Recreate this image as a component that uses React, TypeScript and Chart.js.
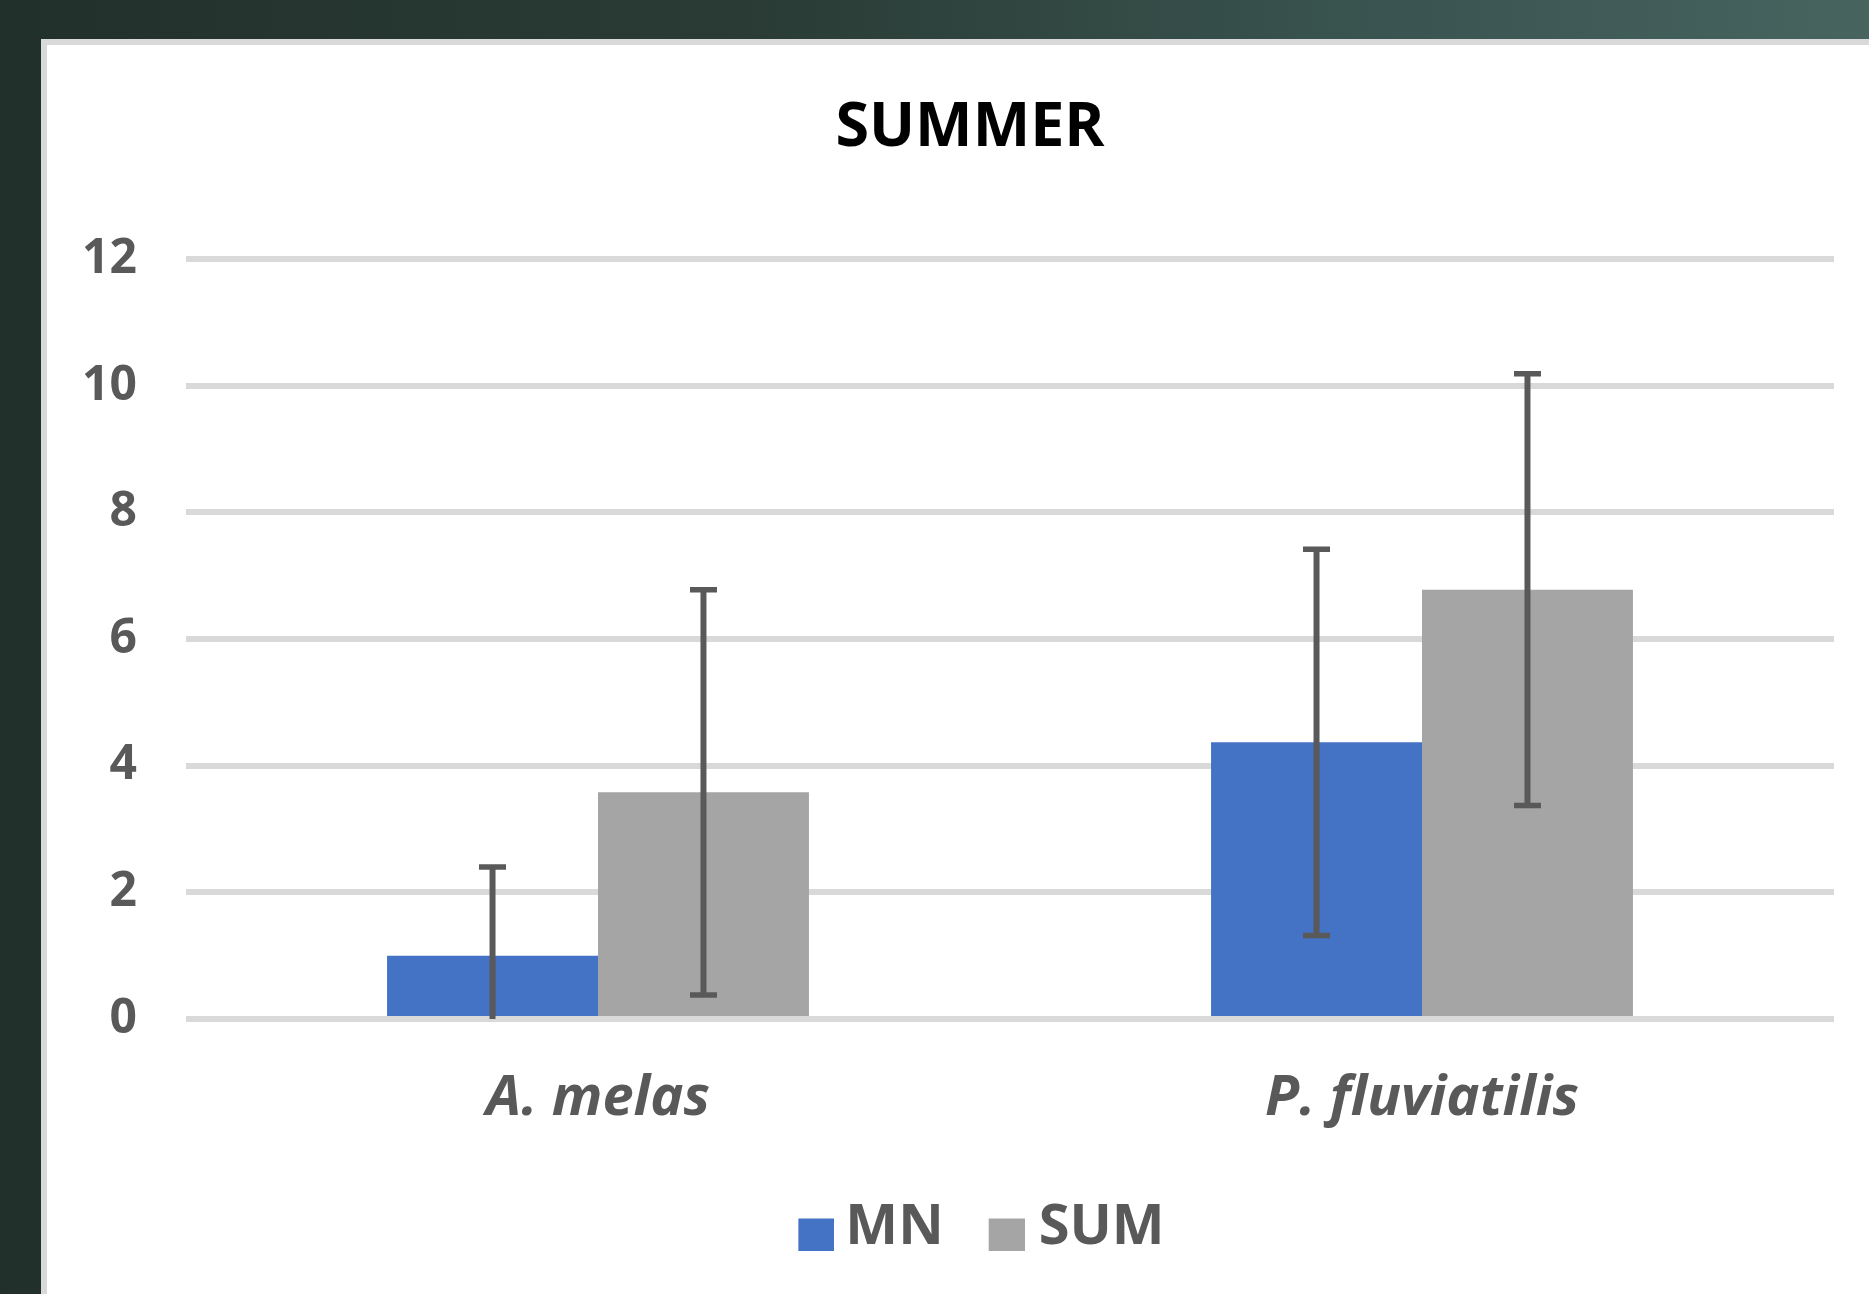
import React, { useEffect, useRef } from "react";
import { Chart, registerables } from "chart.js";

Chart.register(...registerables);

const categories = ["A. melas", "P. fluviatilis"];
const seriesNames = ["MN", "SUM"];
const seriesColors = ["#4472C4", "#A5A5A5"];
const mnValues = [1.0, 4.37];
const mnErrors = [1.4, 3.05];
const sumValues = [3.58, 6.78];
const sumErrors = [3.2, 3.41];
const yMin = 0;
const yMax = 12;
const yStep = 2;

const CANVAS_W = 1846;
const CANVAS_H = 1249;

function makeLegendSwatch(color: string, shift: number) {
  const c = document.createElement("canvas");
  c.width = 70 + shift * 2;
  c.height = 45;
  const g = c.getContext("2d");
  if (g) {
    g.fillStyle = color;
    g.fillRect(34 + shift * 2, 13, 36, 32);
  }
  return c;
}

const errorBarPlugin = {
  id: "errorBars",
  afterDatasetsDraw(chart: any) {
    const { ctx, chartArea, scales } = chart;
    const y = scales.y;
    ctx.save();
    ctx.beginPath();
    ctx.rect(chartArea.left, chartArea.top - 40, chartArea.right - chartArea.left, chartArea.bottom - chartArea.top + 40);
    ctx.clip();
    ctx.strokeStyle = "#595959";
    chart.data.datasets.forEach((ds: any, i: number) => {
      const meta = chart.getDatasetMeta(i);
      const errs: number[] = ds.errors || [];
      meta.data.forEach((bar: any, j: number) => {
        const v = ds.data[j];
        const e = errs[j];
        if (e == null) return;
        const x = bar.x;
        const yTop = y.getPixelForValue(v + e);
        const yBot = y.getPixelForValue(v - e);
        ctx.lineWidth = 6;
        ctx.beginPath();
        ctx.moveTo(x, yTop);
        ctx.lineTo(x, yBot);
        ctx.stroke();
        ctx.lineWidth = 5.5;
        ctx.beginPath();
        ctx.moveTo(x - 13.5, yTop);
        ctx.lineTo(x + 13.5, yTop);
        ctx.moveTo(x - 13.5, yBot);
        ctx.lineTo(x + 13.5, yBot);
        ctx.stroke();
      });
    });
    ctx.restore();
  },
};

export default function App() {
  const ref = useRef<HTMLCanvasElement | null>(null);

  useEffect(() => {
    if (!ref.current) return;
    const swatches = [makeLegendSwatch(seriesColors[0], 3), makeLegendSwatch(seriesColors[1], 0)];
    const chart = new Chart(ref.current, {
      type: "bar",
      data: {
        labels: categories,
        datasets: [
          {
            label: seriesNames[0],
            data: mnValues,
            errors: mnErrors,
            backgroundColor: seriesColors[0],
            borderWidth: 0,
            barPercentage: 1,
            categoryPercentage: 0.512,
          } as any,
          {
            label: seriesNames[1],
            data: sumValues,
            errors: sumErrors,
            backgroundColor: seriesColors[1],
            borderWidth: 0,
            barPercentage: 1,
            categoryPercentage: 0.512,
          } as any,
        ],
      },
      options: {
        responsive: false,
        animation: false,
        layout: { padding: { left: 38, right: 38, top: 0, bottom: 28 } },
        plugins: {
          title: {
            display: true,
            text: "SUMMER",
            color: "#000000",
            font: { family: "'Open Sans'", size: 61, weight: "bold", lineHeight: 1.2 },
            padding: { top: 47, bottom: 94 },
          },
          legend: {
            display: true,
            position: "bottom",
            labels: {
              color: "#595959",
              font: { family: "'Open Sans'", size: 56, weight: "bold" },
              usePointStyle: true,
              boxWidth: 42,
              boxHeight: 32,
              padding: 25,
              generateLabels: (ch: any) =>
                ch.data.datasets.map((ds: any, i: number) => ({
                  text: ds.label,
                  fillStyle: ds.backgroundColor,
                  strokeStyle: ds.backgroundColor,
                  lineWidth: 0,
                  fontColor: "#595959",
                  pointStyle: swatches[i],
                  hidden: false,
                  datasetIndex: i,
                })),
            },
          },
          tooltip: { enabled: false },
        },
        scales: {
          x: {
            afterFit: (scale: any) => {
              scale.height = 156;
            },
            grid: { display: false },
            border: { display: false },
            ticks: {
              color: "#595959",
              padding: 38,
              font: { family: "'Open Sans'", size: 56, weight: "bold", style: "italic" },
            },
          },
          y: {
            min: yMin,
            max: yMax,
            afterFit: (scale: any) => {
              scale.width = 101;
            },
            grid: { color: "#D9D9D9", lineWidth: 6, drawTicks: false },
            border: { display: false },
            ticks: {
              stepSize: yStep,
              color: "#595959",
              padding: 49,
              font: { family: "'Open Sans'", size: 48, weight: "bold" },
            },
          },
          yPad: {
            type: "linear",
            axis: "y",
            position: "right",
            display: true,
            afterFit: (scale: any) => {
              scale.width = 21;
            },
            grid: { display: false, drawTicks: false },
            border: { display: false },
            ticks: { display: false },
          },
        },
      } as any,
      plugins: [errorBarPlugin],
    });
    return () => chart.destroy();
  }, []);

  return (
    <div
      style={{
        position: "fixed",
        left: 0,
        top: 0,
        width: 1869,
        height: 1294,
        overflow: "hidden",
        background: "linear-gradient(90deg, #22302b 0%, #2a3b35 40%, #3a5551 75%, #48645f 100%)",
      }}
    >
      <div
        style={{
          position: "absolute",
          left: 41,
          top: 39,
          width: 1828,
          height: 1255,
          boxSizing: "border-box",
          borderLeft: "6px solid #d9d9d9",
          borderTop: "6px solid #d9d9d9",
          background: "#ffffff",
          overflow: "hidden",
        }}
      >
        <canvas
          ref={ref}
          width={CANVAS_W}
          height={CANVAS_H}
          style={{ position: "absolute", left: 0, top: 0, width: CANVAS_W, height: CANVAS_H }}
        />
      </div>
    </div>
  );
}
